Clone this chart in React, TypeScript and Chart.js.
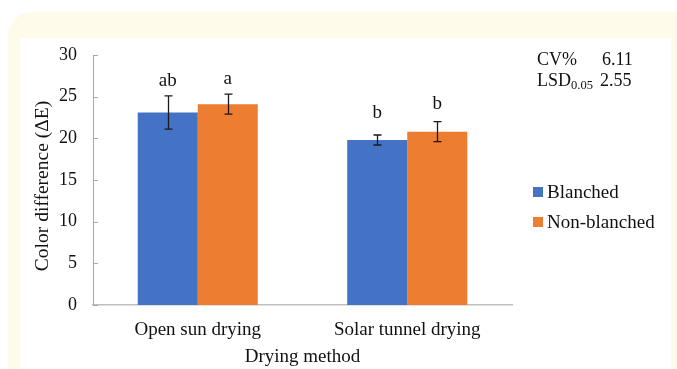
import React, { useEffect, useRef } from "react";
import { Chart, registerables } from "chart.js";

Chart.register(...registerables);

const categories = ["Open sun drying", "Solar tunnel drying"];
const seriesNames = ["Blanched", "Non-blanched"];
const blanched = [23.1, 19.8];
const nonBlanched = [24.1, 20.8];
const blanchedErr = [2.0, 0.6];
const nonBlanchedErr = [1.2, 1.2];
const blanchedLetters = ["ab", "b"];
const nonBlanchedLetters = ["a", "b"];
const blanchedLetterY = [26.3, 22.5];
const nonBlanchedLetterY = [26.5, 23.5];
const yTickValues = [0, 5, 10, 15, 20, 25, 30];
const yTitle = "Color difference (ΔE)";
const xTitle = "Drying method";
const statNames = ["CV%", "LSD"];
const statSubs = ["", "0.05"];
const statValues = ["6.11", "2.55"];
const colors = ["#4472C4", "#ED7D31"];

const FONT = "'Liberation Serif', 'Times New Roman', serif";

const extrasPlugin = {
  id: "extras",
  afterDatasetsDraw(chart: any) {
    const ctx = chart.ctx;
    const y = chart.scales.y;
    const errs = [blanchedErr, nonBlanchedErr];
    const vals = [blanched, nonBlanched];
    const letters = [blanchedLetters, nonBlanchedLetters];
    const letterY = [blanchedLetterY, nonBlanchedLetterY];
    ctx.save();
    // inner tick marks on y axis
    ctx.strokeStyle = "#a6a6a6";
    ctx.lineWidth = 1;
    const left = chart.chartArea.left;
    yTickValues.forEach((v) => {
      const py = Math.round(y.getPixelForValue(v)) + 0.5;
      ctx.beginPath();
      ctx.moveTo(left, py);
      ctx.lineTo(left + 5, py);
      ctx.stroke();
    });
    // error bars and letters
    for (let d = 0; d < 2; d++) {
      const meta = chart.getDatasetMeta(d);
      meta.data.forEach((bar: any, j: number) => {
        const x = Math.round(bar.x) + 0.5;
        const top = y.getPixelForValue(vals[d][j] + errs[d][j]);
        const bot = y.getPixelForValue(vals[d][j] - errs[d][j]);
        ctx.strokeStyle = "#1a1a1a";
        ctx.lineWidth = 1.3;
        ctx.beginPath();
        ctx.moveTo(x, top);
        ctx.lineTo(x, bot);
        ctx.moveTo(x - 4, top);
        ctx.lineTo(x + 4, top);
        ctx.moveTo(x - 4, bot);
        ctx.lineTo(x + 4, bot);
        ctx.stroke();
        ctx.fillStyle = "#111";
        ctx.font = `19px ${FONT}`;
        ctx.textAlign = "center";
        ctx.textBaseline = "alphabetic";
        ctx.fillText(letters[d][j], bar.x, y.getPixelForValue(letterY[d][j]));
      });
    }
    // y axis title
    ctx.save();
    ctx.translate(43, 186);
    ctx.rotate(-Math.PI / 2);
    ctx.fillStyle = "#111";
    ctx.font = `19.5px ${FONT}`;
    ctx.textAlign = "center";
    ctx.textBaseline = "middle";
    ctx.fillText(yTitle, 0, 0);
    ctx.restore();
    // stats text
    ctx.fillStyle = "#111";
    ctx.textAlign = "left";
    ctx.textBaseline = "middle";
    const statY = [60, 81];
    const valX = [602, 600];
    statNames.forEach((n, i) => {
      ctx.font = `18px ${FONT}`;
      ctx.fillText(n, 537, statY[i]);
      const w = ctx.measureText(n).width;
      if (statSubs[i]) {
        ctx.font = `12.5px ${FONT}`;
        ctx.fillText(statSubs[i], 537 + w, statY[i] + 5);
      }
      ctx.font = `18px ${FONT}`;
      ctx.fillText(statValues[i], valX[i], statY[i]);
    });
    // legend
    const legY = [192, 222];
    seriesNames.forEach((n, i) => {
      ctx.fillStyle = colors[i];
      ctx.fillRect(533, legY[i] - 5, 10, 10);
      ctx.fillStyle = "#111";
      ctx.font = `19px ${FONT}`;
      ctx.fillText(n, 547, legY[i] + 1);
    });
    ctx.restore();
  },
};

export default function App() {
  const ref = useRef<HTMLCanvasElement>(null);
  useEffect(() => {
    if (!ref.current) return;
    const chart = new Chart(ref.current, {
      type: "bar",
      data: {
        labels: categories,
        datasets: [
          {
            label: seriesNames[0],
            data: blanched,
            backgroundColor: colors[0],
            categoryPercentage: 0.573,
            barPercentage: 1.0,
          },
          {
            label: seriesNames[1],
            data: nonBlanched,
            backgroundColor: colors[1],
            categoryPercentage: 0.573,
            barPercentage: 1.0,
          },
        ],
      },
      options: {
        animation: false,
        responsive: false,
        devicePixelRatio: 1,
        layout: { padding: { left: 0, top: 55, right: 165, bottom: 0 } },
        plugins: {
          legend: { display: false },
          tooltip: { enabled: false },
        },
        scales: {
          x: {
            grid: { display: false, drawTicks: false },
            border: { display: true, color: "#bfbfbf", width: 1.5 },
            ticks: {
              color: "#111",
              padding: 14,
              font: { family: FONT, size: 19 },
            },
            title: {
              display: true,
              text: xTitle,
              color: "#111",
              padding: { top: 0, bottom: 1 },
              font: { family: FONT, size: 19 },
            },
            afterFit: (s: any) => {
              s.height = 64;
            },
          },
          y: {
            min: 0,
            max: 30,
            grid: { display: false, drawTicks: false },
            border: { display: true, color: "#a6a6a6", width: 1 },
            ticks: {
              stepSize: 5,
              color: "#111",
              padding: 16,
              font: { family: FONT, size: 18 },
            },
            title: { display: false },
            afterFit: (s: any) => {
              s.width = 93;
            },
          },
        },
      },
      plugins: [extrasPlugin],
    });
    return () => chart.destroy();
  }, []);

  return (
    <div style={{ position: "fixed", left: 0, top: 0, width: 677, height: 369, overflow: "hidden", background: "#fff" }}>
      <div
        style={{
          position: "absolute",
          left: 8,
          top: 12,
          width: 700,
          height: 420,
          borderRadius: 24,
          background: "#fffbea",
        }}
      />
      <div
        style={{
          position: "absolute",
          left: 20,
          top: 38,
          width: 651,
          height: 340,
          background: "#ffffff",
        }}
      />
      <canvas
        ref={ref}
        width={677}
        height={369}
        style={{ position: "absolute", left: 0, top: 0, width: 677, height: 369 }}
      />
    </div>
  );
}
